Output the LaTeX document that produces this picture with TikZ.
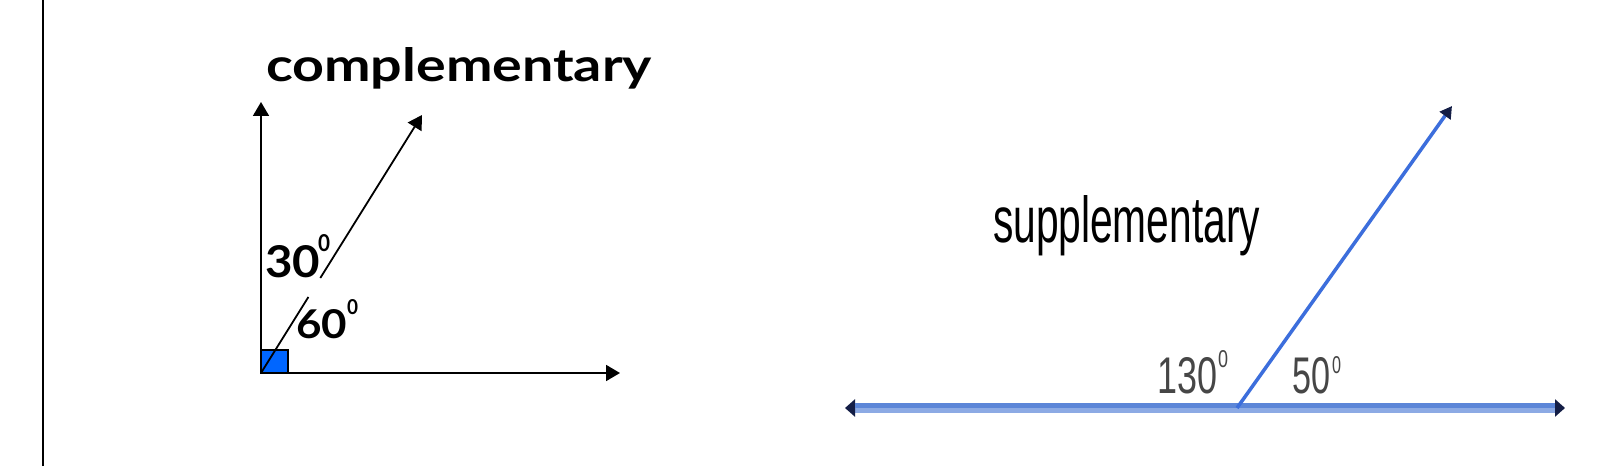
\documentclass[tikz,border=0pt]{standalone}
\usepackage{fontspec}
\usepackage{graphicx}
\setmainfont{Liberation Sans}
\newfontfamily\gillfont{Lato}
\usetikzlibrary{arrows.meta}
\definecolor{sqblue}{RGB}{0,102,255}
\definecolor{linedark}{RGB}{92,134,216}
\definecolor{linelight}{RGB}{140,170,228}
\definecolor{diagblue}{RGB}{60,110,220}
\definecolor{tipdark}{RGB}{20,30,70}
\definecolor{labelgray}{RGB}{70,70,70}
\newcommand{\fitb}[3]{\resizebox{#1pt}{#2pt}{#3}}
\begin{document}
\begin{tikzpicture}[x=1pt,y=1pt,
  lbl/.style={inner sep=0pt, outer sep=0pt, anchor=base west},
  blackline/.style={line width=1.8pt, black},
  blackray/.style={blackline, -{Triangle[length=14pt,width=16pt]}},
  baseline/.style={line width=10pt, linelight,
     {Triangle[length=10pt,width=17pt,color=tipdark]}-{Triangle[length=10pt,width=17pt,color=tipdark]}},
  diagray/.style={line width=3.5pt, diagblue, -{Triangle[length=12pt,width=13pt,color=tipdark]}}]
\useasboundingbox (0,0) rectangle (1608,466);
\fill[white] (0,0) rectangle (1608,466);
% left border
\coordinate (bb) at (42.7,0);
\coordinate (bt) at (42.7,466);
\draw[line width=2.2pt] (bb) -- (bt);

% ---------- complementary ----------
\coordinate (O) at (261,93);
\coordinate (V) at (261,364);
\coordinate (H) at (620,93);
\coordinate (D) at (422,351);
\coordinate (G1) at (308.4,169);
\coordinate (G2) at (320.3,188);
\coordinate (Sq) at (288,116);
\filldraw[fill=sqblue, draw=black, line width=1.2pt] (O) rectangle (Sq);
\draw[blackray] (O) -- (V);
\draw[blackray] (O) -- (H);
\draw[blackline] (O) -- (G1);
\draw[blackray] (G2) -- (D);

\node[lbl] (comp) at (266,384) {\fitb{386}{34}{\gillfont\bfseries complementary}};
\node[lbl] (t30) at (265,188) {\fitb{55}{32}{\gillfont\bfseries 30}};
\node[lbl] (s30) at (318,214) {\fitb{12}{17}{\gillfont\bfseries 0}};
\node[lbl] (t60) at (296,128) {\fitb{51}{29}{\gillfont\bfseries 60}};
\node[lbl] (s60) at (347,151) {\fitb{11}{15}{\gillfont\bfseries 0}};

% ---------- supplementary ----------
\coordinate (L) at (845,58);
\coordinate (R) at (1565,58);
\coordinate (P) at (1237,58);
\coordinate (T) at (1452,360);
\draw[baseline] (L) -- (R);
\draw[line width=5pt, linedark, shorten <=10pt, shorten >=10pt, transform canvas={yshift=2.5pt}] (L) -- (R);
\draw[diagray] (P) -- (T);

\node[lbl] (supp) at (993,223) {\fitb{267}{47}{supplementary}};
\node[lbl, text=labelgray] (t130) at (1157,73) {\fitb{60}{36}{130}};
\node[lbl, text=labelgray] (s130) at (1218,99) {\fitb{10}{17}{0}};
\node[lbl, text=labelgray] (t50) at (1292,73) {\fitb{38}{36}{50}};
\node[lbl, text=labelgray] (s50) at (1332,93) {\fitb{9}{17}{0}};
\end{tikzpicture}
\end{document}
